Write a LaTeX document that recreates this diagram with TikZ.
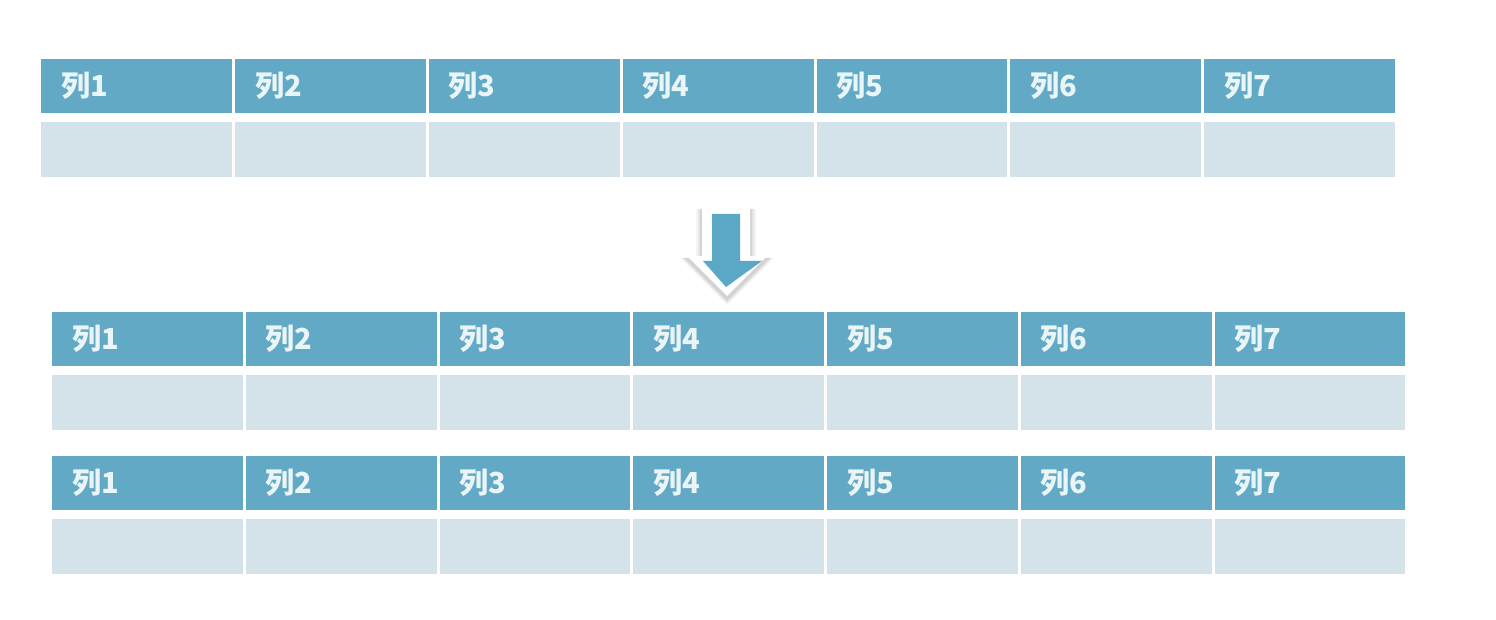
\documentclass[tikz,border=0pt]{standalone}
\usepackage{fontspec}
\newfontfamily\cjk{Noto Sans CJK SC}
\definecolor{hdr}{HTML}{62A9C5}
\definecolor{bdy}{HTML}{D4E3EA}
\definecolor{txt}{HTML}{EAF5F8}
\definecolor{arr}{HTML}{5AA8C6}
\tikzset{
  hcell/.style={fill=hdr, draw=none, inner sep=0pt, anchor=north west, minimum height=54pt,
    text width=#1, align=left, font=\cjk\bfseries\fontsize{29}{29}\selectfont, text=txt},
  bcell/.style={fill=bdy, draw=none, inner sep=0pt, anchor=north west, minimum height=55pt, minimum width=#1},
}
\begin{document}
\begin{tikzpicture}[x=1pt,y=-1pt]
\fill[white] (0,0) rectangle (1496,620);
\useasboundingbox (0,0) rectangle (1496,620);
% tables: name/left/right/header top/body top
\foreach \t/\L/\R/\H/\B in {1/41/1395/59/122, 2/52/1405/312/375, 3/52/1405/456/519}{
  \pgfmathsetmacro{\w}{(\R-\L+3)/7}
  \pgfmathsetmacro{\cw}{\w-3}
  \foreach \c in {1,...,7}{
    \pgfmathsetmacro{\x}{\L+(\c-1)*\w}
    \node[hcell=\cw pt] (h\t-\c) at (\x,\H) {\hspace*{20pt}\raisebox{-2pt}{列\c}};
    \node[bcell=\cw pt] (b\t-\c) at (\x,\B) {};
  }
}
% arrow shadow
\foreach \o/\op in {6/0.04,4/0.06,2/0.08}{
  \fill[black,opacity=\op] (702-\o,209) -- (750+\o,209) -- (750+\o,258) -- (768+\o,258) -- (727,299+\o) -- (686-\o,258) -- (702-\o,258) -- cycle;
}
% white outline
\fill[white] (702,207) -- (750,207) -- (750,256) -- (767,256) -- (727,296) -- (687,256) -- (702,256) -- cycle;
% blue arrow
\fill[arr] (712,214) -- (740,214) -- (740,261) -- (762,261) -- (726,287) -- (703,261) -- (712,261) -- cycle;
\end{tikzpicture}
\end{document}
